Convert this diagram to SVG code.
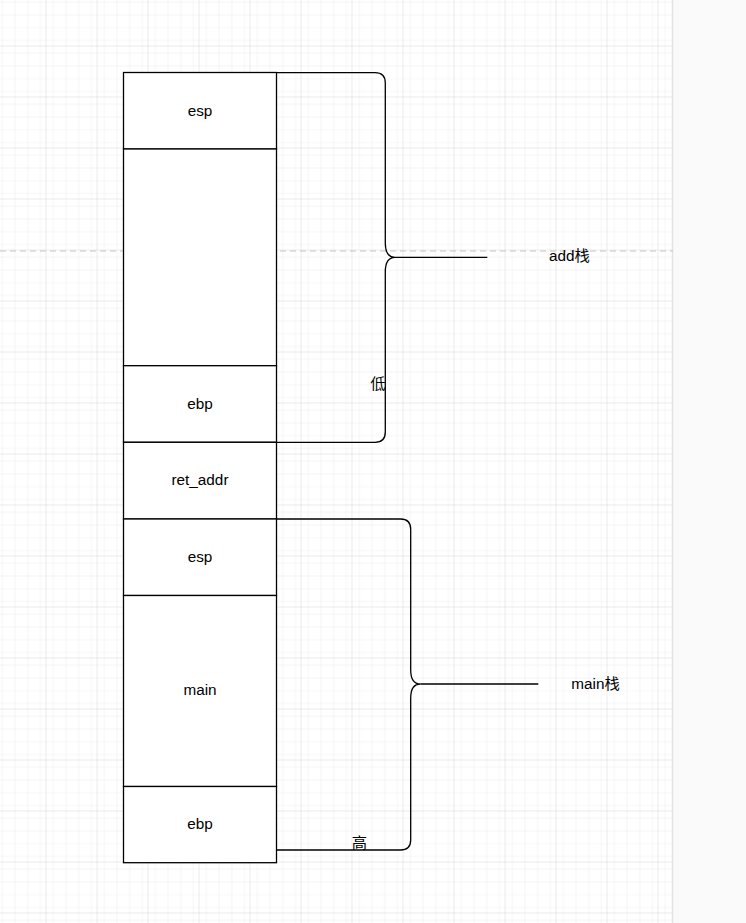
<svg xmlns="http://www.w3.org/2000/svg" width="746" height="923" viewBox="0 0 746 923">
  <defs>
    <pattern id="minor" width="12.75" height="12.75" patternUnits="userSpaceOnUse" x="45.5" y="45.5">
      <path d="M0 0H12.75M0 0V12.75" fill="none" stroke="#ebebeb" stroke-width="1"/>
    </pattern>
    <pattern id="major" width="51" height="51" patternUnits="userSpaceOnUse" x="45.5" y="45.5">
      <rect width="51" height="51" fill="url(#minor)"/>
      <path d="M0 0H51M0 0V51" fill="none" stroke="#d6d6d6" stroke-width="1"/>
    </pattern>
    <style>
      .box { fill: #ffffff; stroke: #000000; stroke-width: 1.3; }
      .lbl { font-family: "Liberation Sans", Arial, "Noto Sans CJK SC", sans-serif; font-size: 15.3px; fill: #000000; text-anchor: middle; }
      .brace { fill: none; stroke: #000000; stroke-width: 1.3; }
    </style>
  </defs>
  <rect width="746" height="923" fill="#ffffff"/>
  <rect x="0" y="0" width="673" height="923" fill="url(#major)"/>
  <rect x="673" y="0" width="73" height="923" fill="#fafafa"/>
  <line x1="672.5" y1="0" x2="672.5" y2="923" stroke="#e3e3e3" stroke-width="1.5"/>
  <line x1="0" y1="251" x2="673" y2="251" stroke="#c4c4c4" stroke-width="1" stroke-dasharray="6 4"/>

  <g id="add-esp"><rect class="box" x="123.5" y="72.5" width="153" height="76.5"/><text class="lbl" x="200" y="116">esp</text></g>
  <g id="add-body"><rect class="box" x="123.5" y="149" width="153" height="216.7"/></g>
  <g id="add-ebp"><rect class="box" x="123.5" y="365.7" width="153" height="76.6"/><text class="lbl" x="200" y="409">ebp</text></g>
  <g id="ret-addr"><rect class="box" x="123.5" y="442.3" width="153" height="76.7"/><text class="lbl" x="200" y="485">ret_addr</text></g>
  <g id="main-esp"><rect class="box" x="123.5" y="519" width="153" height="76.5"/><text class="lbl" x="200" y="562">esp</text></g>
  <g id="main-body"><rect class="box" x="123.5" y="595.5" width="153" height="191"/><text class="lbl" x="200" y="695">main</text></g>
  <g id="main-ebp"><rect class="box" x="123.5" y="786.5" width="153" height="76.2"/><text class="lbl" x="200" y="829">ebp</text></g>

  <g id="connectors">
    <g id="add-brace">
      <path class="brace" d="M277 72.7H375Q385.3 72.7 385.3 83V243Q385.3 257.3 395 257.3Q385.3 257.3 385.3 272V432Q385.3 442.3 375 442.3H277"/>
      <path class="brace" d="M395 257.3H487.3"/>
    </g>
    <g id="main-brace">
      <path class="brace" d="M277 519H400.5Q410.7 519 410.7 529.3V670Q410.7 684 420.5 684Q410.7 684 410.7 698V840Q410.7 850 400.5 850H277"/>
      <path class="brace" d="M420.5 684H538.3"/>
    </g>
  </g>

  <g id="label-add"><text class="lbl" x="569.5" y="261">add栈</text></g>
  <g id="label-main"><text class="lbl" x="595.5" y="689">main栈</text></g>
  <g id="label-low"><text class="lbl" x="378" y="389">低</text></g>
  <g id="label-high"><text class="lbl" x="359.5" y="848">高</text></g>
</svg>
